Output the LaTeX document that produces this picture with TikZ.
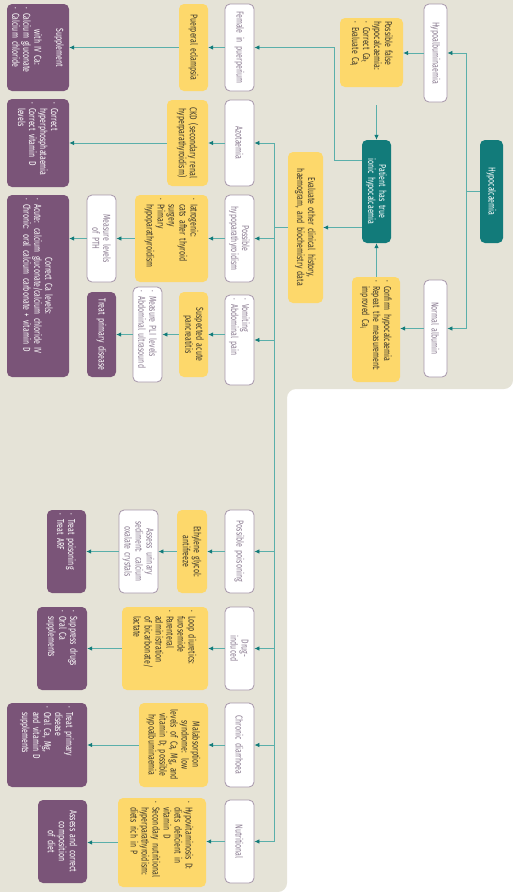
\documentclass[tikz,border=0pt]{standalone}
\usepackage{fontspec}
\setmainfont{Fira Sans}[FakeStretch=0.7, WordSpace=0.75]
\usepackage{xcolor}
\usetikzlibrary{arrows.meta,calc}

\definecolor{bgbeige}{HTML}{E5E3D7}
\definecolor{tfill}{HTML}{127B7A}
\definecolor{tline}{HTML}{5AAFAA}
\definecolor{yfill}{HTML}{FDD86B}
\definecolor{ytext}{HTML}{3E392C}
\definecolor{pfill}{HTML}{7A5478}
\definecolor{wborder}{HTML}{A797AB}
\definecolor{wtext}{HTML}{8C7D92}

\hyphenpenalty=10000
\exhyphenpenalty=10000
\newcommand{\bu}{\makebox[0.6em][l]{·}}
\newcommand{\ind}{\hspace*{0.6em}}
\newcommand{\ctl}[1]{\null\hfill#1\hfill\null}

\begin{document}
\begin{tikzpicture}[x=1pt, y=1pt, rotate=-90, transform shape,
    box/.style={rounded corners=5pt, inner xsep=3pt, inner ysep=2pt,
      font=\fontsize{10}{11}\selectfont, align=center},
    wbox/.style={box, draw=wborder, line width=0.8pt, fill=white, text=wtext},
    ybox/.style={box, fill=yfill, text=ytext},
    pbox/.style={box, fill=pfill, text=white},
    tbox/.style={box, fill=tfill, text=white},
    lst/.style={align=left},
    wd/.style={text width=#1pt},
    ht/.style={minimum height=#1pt},
    conn/.style={draw=tline, line width=0.8pt},
    arr/.style={conn, -{Latex[length=5pt,width=4.5pt,color=tfill]}}]

    \useasboundingbox (0,0) rectangle (892,513);
    % background
    \fill[bgbeige, rounded corners=9pt] (-20,-20) -- (-20,513) -- (389,513)
        -- (389,287) -- (892,287) -- (892,-20) -- cycle;

    % top of the chart
    \node[tbox, wd=97, ht=23] (hypo) at (191.5,491.5) {Hypocalcaemia};
    \node[wbox, wd=92, ht=23] (hypoalb) at (53,435.5) {Hypoalbuminaemia};
    \node[wbox, wd=91, ht=23] (normalb) at (328.5,435.5) {Normal albumin};
    \node[ybox, lst, wd=63, ht=63] (falsehc) at (52.5,371.5)
        {Possible false\\hypocalcaemia:\\\bu Correct Ca\textsubscript{t}\\\bu Evaluate Ca\textsubscript{i}};
    \node[ybox, lst, wd=99, ht=48] (confirm) at (329.5,376)
        {\bu Confirm hypocalcaemia\\\bu Repeat the measurement:\\\ind improved Ca\textsubscript{i}};
    \node[tbox, wd=97, ht=29] (trueion) at (191.5,376.5) {Patient has true\\ionic hypocalcaemia};
    \node[ybox, wd=145, ht=35] (evaluate) at (227.5,305.5)
        {Evaluate other clinical history,\\haemogram, and biochemistry data};

    % causes
    \node[wbox, wd=81, ht=29] (female) at (47.5,239.5) {Female in puerperium};
    \node[wbox, wd=80, ht=29] (azot) at (143,239.5) {Azotaemia};
    \node[wbox, wd=81, ht=29] (hypopara) at (238.5,239.5) {Possible\\hypoparathyroidism};
    \node[wbox, lst, wd=84, ht=29] (vomit) at (340,239.5) {\bu Vomiting\\\bu Abdominal pain};
    \node[wbox, wd=77, ht=29] (poison) at (551.5,239.5) {Possible poisoning};
    \node[wbox, wd=77, ht=29] (drug) at (648.5,239.5) {Drug-\\induced};
    \node[wbox, wd=78, ht=29] (diarr) at (745,239.5) {Chronic diarrhoea};
    \node[wbox, wd=77, ht=29] (nutri) at (841.5,239.5) {Nutritional};

    % diagnoses
    \node[ybox, wd=81, ht=29] (eclampsia) at (47.5,193.5) {Puerperal eclampsia};
    \node[ybox, wd=80, ht=41] (ckd) at (143,187.5) {CKD (secondary renal\\hyperparathyroidism)};
    \node[ybox, lst, wd=81, ht=73] (iatro) at (238.5,171.5)
        {\bu Iatrogenic:\\\ind cats after thyroid\\\ind surgery\\\bu Primary\\\ind hypoparathyroidism};
    \node[ybox, wd=79, ht=29] (pancr) at (334.5,193.5) {Suspected acute\\pancreatitis};
    \node[ybox, wd=77, ht=30] (ethyl) at (551.5,192) {Ethylene glycol:\\antifreeze};
    \node[ybox, lst, wd=77, ht=86] (loop) at (648.5,165)
        {\bu Loop diuretics:\\\ind furosemide\\\bu Parenteral\\\ind administration\\\ind of bicarbonate/\\\ind lactate};
    \node[ybox, wd=78, ht=69] (malab) at (745,173.5)
        {Malabsorption\\syndrome: low\\levels of Ca, Mg, and\\vitamin D; possible\\hypoalbuminaemia};
    \node[ybox, lst, wd=83, ht=88] (hypovit) at (842.5,162)
        {\bu Hypovitaminosis D:\\\ind diets deficient in\\\ind vitamin D\\\bu Secondary nutritional\\\ind hyperparathyroidism:\\\ind diets rich in P};

    % tests
    \node[wbox, wd=81, ht=29] (pth) at (238.5,101.5) {Measure levels\\of PTH};
    \node[wbox, lst, wd=89, ht=29] (pli) at (334.5,147.5) {\bu Measure PLI levels\\\bu Abdominal ultrasound};
    \node[wbox, wd=77, ht=39] (urine) at (551.5,138.5) {Assess urinary\\sediment: calcium\\oxalate crystals};

    % treatments
    \node[pbox, lst, wd=81, ht=62] (ivca) at (47.5,38)
        {\ctl{Supplement}\\\ctl{with IV Ca:}\\\bu Calcium gluconate\\\bu Calcium chloride};
    \node[pbox, lst, wd=82, ht=62] (phos) at (143,38)
        {\bu Correct\\\ind hyperphosphataemia\\\bu Correct vitamin D\\\ind levels};
    \node[pbox, lst, wd=176, ht=62] (corrca) at (286,38)
        {\ctl{Correct Ca levels:}\\\bu Acute: calcium gluconate/calcium chloride IV\\\bu Chronic: oral calcium carbonate + vitamin D};
    \node[pbox, wd=79, ht=29] (treatpd) at (334.5,101.5) {Treat primary disease};
    \node[pbox, lst, wd=77, ht=39] (treatpois) at (551.5,66.5) {\bu Treat poisoning\\\bu Treat ARF};
    \node[pbox, lst, wd=77, ht=50] (suppress) at (648.5,62) {\bu Suppress drugs\\\bu Oral Ca\\\ind supplements};
    \node[pbox, lst, wd=78, ht=80] (treatmal) at (745,47)
        {\bu Treat primary\\\ind disease\\\bu Oral Ca, Mg,\\\ind and vitamin D\\\ind supplements};
    \node[pbox, wd=77, ht=49] (diet) at (841.5,62.5) {Assess and correct\\composition\\of diet};

    % connectors
    \draw[arr] (hypo.south) -- ++(0,-13) -| (hypoalb.north);
    \draw[arr] (hypo.south) -- ++(0,-13) -| (normalb.north);
    \draw[arr] (hypoalb.south) -- (hypoalb.south |- falsehc.north);
    \draw[arr] (normalb.south) -- (normalb.south |- confirm.north);
    \draw[arr, shorten <=18pt] (falsehc.east |- trueion.west) -- (trueion.west);
    \draw[arr] (confirm.west |- trueion.east) -- (trueion.east);
    \draw[arr] (evaluate.north |- trueion.south) -- (evaluate.north);
    \draw[arr] ($(trueion.south west)!0.2!(trueion.south east)$) -- ++(0,-27) -| (female.north);

    \draw[conn] (evaluate.south) -- ++(0,-13) coordinate (trunk);
    \foreach \n in {azot,hypopara,vomit,poison,drug,diarr,nutri}
        \draw[arr] (trunk) -| (\n.north);

    \foreach \a/\b in {female/eclampsia, eclampsia/ivca, azot/ckd, ckd/phos,
        hypopara/iatro, iatro/pth, pth/corrca, pancr/pli, pli/treatpd,
        poison/ethyl, ethyl/urine, urine/treatpois, drug/loop, loop/suppress,
        diarr/malab, malab/treatmal, nutri/hypovit, hypovit/diet}
        \draw[arr] (\a.south) -- (\a.south |- \b.north);
    \draw[arr] (pancr.north |- vomit.south) -- (pancr.north);
\end{tikzpicture}
\end{document}
